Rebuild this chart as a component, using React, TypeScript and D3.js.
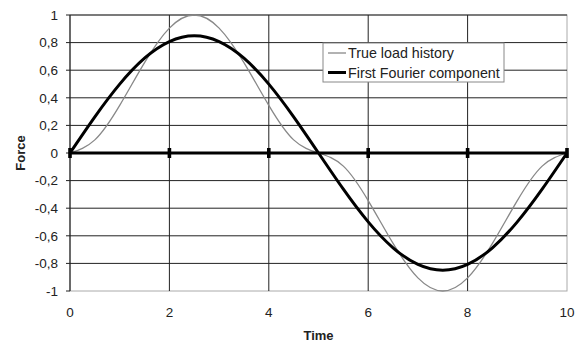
import * as d3 from 'd3'

const times = [0, 0.5, 1, 1.5, 2, 2.5, 3, 3.5, 4, 4.5, 5, 5.5, 6, 6.5, 7, 7.5, 8, 8.5, 9, 9.5, 10]
const trueLoad = [0, 0.095, 0.345, 0.655, 0.905, 1, 0.905, 0.655, 0.345, 0.095, 0, -0.095, -0.345, -0.655, -0.905, -1, -0.905, -0.655, -0.345, -0.095, 0]
const fourier = [0, 0.262, 0.499, 0.687, 0.807, 0.849, 0.807, 0.687, 0.499, 0.262, 0, -0.262, -0.499, -0.687, -0.807, -0.849, -0.807, -0.687, -0.499, -0.262, 0]
const xTicks = [0, 2, 4, 6, 8, 10]
const yTicks = [-1, -0.8, -0.6, -0.4, -0.2, 0, 0.2, 0.4, 0.6, 0.8, 1]
const legendLabels = ['True load history', 'First Fourier component']

const W = 578
const H = 342
const FONT = 'Arial, "Liberation Sans", sans-serif'

export default function App() {
  const margin = { top: 15, right: 11, bottom: 51, left: 70 }
  const x = d3.scaleLinear().domain([0, 10]).range([margin.left, W - margin.right])
  const y = d3.scaleLinear().domain([-1, 1]).range([H - margin.bottom, margin.top])

  const line = d3.line<number>()
    .x((_, i) => x(times[i]))
    .y(d => y(d))
    .curve(d3.curveNatural)

  const fmt = (v: number) => (Math.abs(v) < 1e-9 ? '0' : String(+v.toFixed(1)).replace('.', ','))

  return (
    <svg width={W} height={H} style={{ position: 'absolute', left: 0, top: 0, background: '#fff' }}>
      {/* plot border */}
      <rect x={x(0)} y={y(1)} width={x(10) - x(0)} height={y(-1) - y(1)} fill="#fff" stroke="#aaa" strokeWidth={1} />

      {/* horizontal gridlines */}
      {yTicks.filter(t => t > -1 && t !== 0).map(t => (
        <line key={'gy' + t} x1={x(0)} x2={x(10)} y1={y(t)} y2={y(t)} stroke="#222" strokeWidth={1} />
      ))}
      {/* vertical gridlines */}
      {xTicks.filter(t => t > 0 && t < 10).map(t => (
        <line key={'gx' + t} x1={x(t)} x2={x(t)} y1={y(1)} y2={y(-1)} stroke="#222" strokeWidth={1} />
      ))}

      {/* y axis */}
      <line x1={x(0)} x2={x(0)} y1={y(1)} y2={y(-1)} stroke="#222" strokeWidth={1.2} />
      {yTicks.map(t => (
        <g key={'yt' + t}>
          <line x1={x(0) - 4} x2={x(0)} y1={y(t)} y2={y(t)} stroke="#222" strokeWidth={1} />
          <text x={x(0) - 12} y={y(t)} dy="0.35em" textAnchor="end" fontFamily={FONT} fontSize={13.5} fill="#222">
            {fmt(t)}
          </text>
        </g>
      ))}

      {/* x axis labels */}
      {xTicks.map(t => (
        <text key={'xt' + t} x={x(t)} y={y(-1) + 21} dy="0.35em" textAnchor="middle" fontFamily={FONT} fontSize={13.5} fill="#222">
          {t}
        </text>
      ))}

      {/* series */}
      <path d={line(trueLoad) || ''} fill="none" stroke="#888" strokeWidth={1.3} />
      <path d={line(fourier) || ''} fill="none" stroke="#000" strokeWidth={3} />

      {/* zero axis with cross ticks */}
      <line x1={x(0)} x2={x(10)} y1={y(0)} y2={y(0)} stroke="#000" strokeWidth={3.2} />
      {xTicks.map(t => (
        <rect key={'zt' + t} x={x(t) - 1.8} y={y(0) - 5} width={3.6} height={10} fill="#000" />
      ))}

      {/* axis titles */}
      <text x={(x(0) + x(10)) / 2} y={335} dy="0.35em" textAnchor="middle" fontFamily={FONT} fontSize={13} fontWeight="bold" fill="#222">
        Time
      </text>
      <text transform={`translate(20,${y(0)}) rotate(-90)`} dy="0.35em" textAnchor="middle" fontFamily={FONT} fontSize={13} fontWeight="bold" fill="#222">
        Force
      </text>

      {/* legend */}
      <rect x={323} y={43} width={181} height={39} fill="#fff" stroke="#888" strokeWidth={1} />
      {legendLabels.map((label, i) => (
        <g key={label}>
          <line x1={328} x2={346} y1={53 + i * 19.5} y2={53 + i * 19.5} stroke={i === 0 ? '#888' : '#000'} strokeWidth={i === 0 ? 1.3 : 3} />
          <text x={348} y={53 + i * 19.5} dy="0.35em" fontFamily={FONT} fontSize={14.3} fill="#222">
            {label}
          </text>
        </g>
      ))}
    </svg>
  )
}
